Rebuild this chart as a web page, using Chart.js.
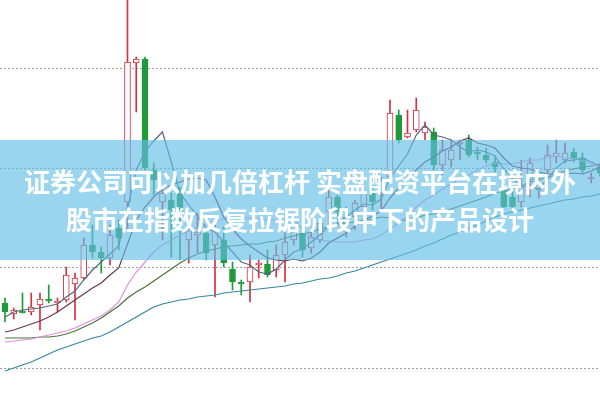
<!DOCTYPE html>
<html>
<head>
<meta charset="utf-8">
<script src="https://cdn.jsdelivr.net/npm/chart.js@4/dist/chart.umd.min.js"></script>
<style>
    html, body { margin: 0; padding: 0; background: #fff; }
    #wrap { position: relative; width: 600px; height: 401px; overflow: hidden; }
    #chart { position: absolute; left: 0; top: 0; }
    #band {
        position: absolute; left: 0; top: 140px; width: 600px; height: 120px;
        background: rgba(100, 190, 230, 0.65);
        color: #fff; text-align: center;
        font-family: "Noto Sans CJK SC", sans-serif; font-weight: bold;
        font-size: 26px; line-height: 38px; box-sizing: border-box; padding-top: 22px;
    }
</style>
</head>
<body>
<div id="wrap">
    <canvas id="chart" width="600" height="401"></canvas>
    <div id="band">证券公司可以加几倍杠杆 实盘配资平台在境内外<br>股市在指数反复拉锯阶段中下的产品设计</div>
</div>
<script>
// ── Data (daily K-line, price) ───────────────────────────────────────
const openP = [10.65, 10.54, 10.57, 10.56, 10.63, 10.69, 10.65, 10.68, 10.84, 10.90,
    11.23, 11.16, 11.10, 11.40, 11.66, 13.05, 13.09, 11.98, 11.66, 11.68,
    11.76, 11.28, 11.33, 11.35, 11.23, 11.28, 10.99, 10.86, 10.86, 11.03,
    11.04, 10.98, 11.13, 11.28, 11.35, 11.20, 11.28, 11.56, 11.71, 11.45,
    11.51, 11.61, 11.78, 11.75, 11.91, 12.53, 12.31, 12.38, 12.35, 12.36,
    12.03, 12.08, 12.24, 12.28, 12.16, 12.13, 12.06, 11.78, 11.71, 11.66,
    11.88, 11.78, 11.98, 12.11, 12.08, 12.16, 12.10, 11.89, 12.01];
const highP = [10.70, 10.60, 10.75, 10.75, 10.75, 10.83, 10.70, 11.01, 10.95, 11.30,
    11.43, 11.21, 11.43, 11.48, 13.78, 13.11, 13.11, 12.05, 11.81, 11.75,
    11.81, 11.48, 11.55, 11.41, 11.43, 11.41, 11.06, 10.88, 11.13, 11.08,
    11.18, 11.23, 11.40, 11.51, 11.41, 11.36, 11.48, 11.78, 11.73, 11.61,
    11.68, 11.81, 11.83, 11.91, 12.68, 12.58, 12.58, 12.70, 12.46, 12.40,
    12.28, 12.28, 12.28, 12.33, 12.21, 12.20, 12.11, 11.83, 11.78, 12.08,
    12.10, 11.90, 12.23, 12.28, 12.25, 12.20, 12.15, 11.95, 12.05];
const lowP = [10.46, 10.49, 10.55, 10.53, 10.38, 10.65, 10.56, 10.66, 10.48, 10.89,
    11.10, 10.95, 11.03, 11.18, 11.38, 12.56, 11.98, 11.73, 11.28, 11.11,
    11.08, 11.05, 11.15, 11.08, 10.71, 11.01, 10.78, 10.73, 10.66, 10.90,
    10.91, 10.91, 10.86, 11.23, 11.11, 11.15, 11.25, 11.40, 11.41, 11.31,
    11.38, 11.55, 11.58, 11.58, 11.88, 12.25, 12.30, 12.36, 12.28, 11.98,
    11.93, 12.01, 12.08, 12.11, 12.08, 12.05, 11.96, 11.60, 11.56, 11.61,
    11.71, 11.70, 11.93, 12.05, 12.05, 12.06, 11.95, 11.85, 11.92];
const closeP = [10.56, 10.58, 10.55, 10.61, 10.69, 10.67, 10.67, 10.93, 10.90, 11.23,
    11.16, 11.10, 11.33, 11.30, 13.06, 13.09, 12.00, 11.88, 11.75, 11.58,
    11.55, 11.38, 11.36, 11.15, 11.38, 11.05, 10.86, 10.84, 11.01, 11.05,
    10.93, 11.13, 11.26, 11.43, 11.18, 11.31, 11.45, 11.71, 11.56, 11.51,
    11.65, 11.75, 11.66, 11.88, 12.55, 12.28, 12.35, 12.58, 12.41, 12.03,
    12.18, 12.18, 12.26, 12.13, 12.14, 12.08, 12.01, 11.61, 11.61, 11.81,
    12.05, 11.85, 12.13, 12.15, 12.15, 12.10, 11.98, 11.91, 11.95];

// moving averages
const ma5 = [10.51, 10.56, 10.58, 10.59, 10.60, 10.62, 10.64, 10.71, 10.77, 10.88,
    10.98, 11.06, 11.14, 11.22, 11.59, 11.98, 12.16, 12.27, 12.36, 12.06,
    11.75, 11.63, 11.52, 11.40, 11.36, 11.26, 11.16, 11.06, 11.03, 10.96,
    10.94, 10.99, 11.08, 11.16, 11.19, 11.26, 11.33, 11.42, 11.44, 11.51,
    11.58, 11.64, 11.63, 11.69, 11.90, 12.02, 12.14, 12.33, 12.43, 12.33,
    12.31, 12.28, 12.21, 12.16, 12.18, 12.16, 12.12, 11.99, 11.89, 11.82,
    11.82, 11.79, 11.89, 12.00, 12.07, 12.08, 12.10, 12.06, 12.02];
const ma10 = [10.36, 10.38, 10.41, 10.44, 10.47, 10.51, 10.56, 10.62, 10.68, 10.74,
    10.80, 10.85, 10.93, 11.00, 11.24, 11.48, 11.61, 11.71, 11.79, 11.83,
    11.86, 11.89, 11.90, 11.88, 11.71, 11.51, 11.39, 11.29, 11.22, 11.16,
    11.10, 11.08, 11.07, 11.09, 11.07, 11.10, 11.16, 11.25, 11.30, 11.35,
    11.42, 11.48, 11.52, 11.57, 11.70, 11.80, 11.89, 11.98, 12.06, 12.11,
    12.17, 12.21, 12.27, 12.30, 12.25, 12.23, 12.20, 12.10, 12.02, 12.00,
    11.99, 11.96, 11.94, 11.94, 11.94, 11.95, 11.94, 11.97, 12.01];
const ma20 = [10.26, 10.27, 10.28, 10.29, 10.31, 10.33, 10.35, 10.37, 10.40, 10.44,
    10.48, 10.52, 10.58, 10.66, 10.83, 10.96, 11.06, 11.16, 11.23, 11.28,
    11.33, 11.37, 11.41, 11.44, 11.47, 11.49, 11.50, 11.50, 11.50, 11.49,
    11.48, 11.48, 11.48, 11.49, 11.39, 11.30, 11.28, 11.27, 11.26, 11.26,
    11.26, 11.28, 11.29, 11.33, 11.39, 11.45, 11.52, 11.61, 11.68, 11.73,
    11.79, 11.84, 11.89, 11.93, 11.98, 12.02, 12.05, 12.04, 12.04, 12.06,
    12.08, 12.08, 12.11, 12.12, 12.10, 12.09, 12.07, 12.04, 12.01];
const ma30 = [10.30, 10.30, 10.30, 10.30, 10.31, 10.31, 10.32, 10.34, 10.37, 10.41,
    10.45, 10.50, 10.56, 10.62, 10.70, 10.76, 10.81, 10.87, 10.93, 10.99,
    11.05, 11.10, 11.14, 11.17, 11.19, 11.21, 11.22, 11.23, 11.24, 11.24,
    11.26, 11.27, 11.30, 11.32, 11.34, 11.36, 11.39, 11.41, 11.44, 11.45,
    11.46, 11.48, 11.49, 11.51, 11.50, 11.47, 11.48, 11.50, 11.53, 11.54,
    11.56, 11.59, 11.62, 11.65, 11.68, 11.71, 11.75, 11.77, 11.79, 11.82,
    11.86, 11.88, 11.91, 11.93, 11.97, 11.99, 12.01, 12.02, 12.03];
const ma60 = [9.97, 10.00, 10.03, 10.06, 10.10, 10.14, 10.18, 10.21, 10.24, 10.27,
    10.30, 10.32, 10.36, 10.41, 10.46, 10.51, 10.56, 10.61, 10.64, 10.66,
    10.68, 10.69, 10.71, 10.72, 10.73, 10.75, 10.76, 10.77, 10.78, 10.79,
    10.80, 10.81, 10.82, 10.84, 10.85, 10.87, 10.89, 10.90, 10.92, 10.95,
    10.97, 11.00, 11.03, 11.06, 11.09, 11.12, 11.15, 11.18, 11.22, 11.25,
    11.29, 11.33, 11.36, 11.40, 11.43, 11.47, 11.51, 11.54, 11.56, 11.58,
    11.60, 11.62, 11.64, 11.66, 11.68, 11.69, 11.71, 11.72, 11.74];

const gridTicks = [10, 11, 12, 13];

// ── Colours ──────────────────────────────────────────────────────────
const UP = '#d2323f';
const DOWN = '#1f9a3a';
const isUp = closeP.map((c, i) => c >= openP[i]);

const pts = arr => arr.map((v, i) => ({ x: i, y: v }));
const lineSet = (label, data, color) => ({
    type: 'line', label, data: pts(data), borderColor: color, borderWidth: 1.2,
    pointRadius: 0, tension: 0, fill: false, order: 1
});

// ── Chart ────────────────────────────────────────────────────────────
new Chart(document.getElementById('chart'), {
    type: 'bar',
    data: {
        datasets: [
            {
                label: 'wick',
                data: lowP.map((l, i) => ({ x: i, y: [l, highP[i]] })),
                backgroundColor: isUp.map(u => u ? UP : DOWN),
                barThickness: 1, grouped: false, order: 3
            },
            {
                label: 'body',
                data: openP.map((o, i) => ({ x: i, y: [o, closeP[i]] })),
                backgroundColor: isUp.map(u => u ? '#ffffff' : DOWN),
                borderColor: isUp.map(u => u ? UP : DOWN),
                borderWidth: 1, borderSkipped: false,
                barThickness: 6, grouped: false, order: 2
            },
            lineSet('MA5', ma5, '#55667f'),
            lineSet('MA10', ma10, '#6e3153'),
            lineSet('MA20', ma20, '#e08fe0'),
            lineSet('MA30', ma30, '#457535'),
            lineSet('MA60', ma60, '#33879f')
        ]
    },
    options: {
        responsive: false,
        animation: false,
        layout: { padding: 0 },
        plugins: { legend: { display: false }, tooltip: { enabled: false } },
        scales: {
            x: { type: 'linear', min: -0.57, max: 68, offset: false, display: false },
            y: {
                min: 9.67, max: 13.68,
                afterBuildTicks: axis => { axis.ticks = gridTicks.map(v => ({ value: v })); },
                afterFit: axis => { axis.width = 0; },
                ticks: { display: false },
                grid: { color: '#a0a0a0', lineWidth: 1, drawTicks: false },
                border: { display: false, dash: [2, 2] }
            }
        }
    }
});
</script>
</body>
</html>
